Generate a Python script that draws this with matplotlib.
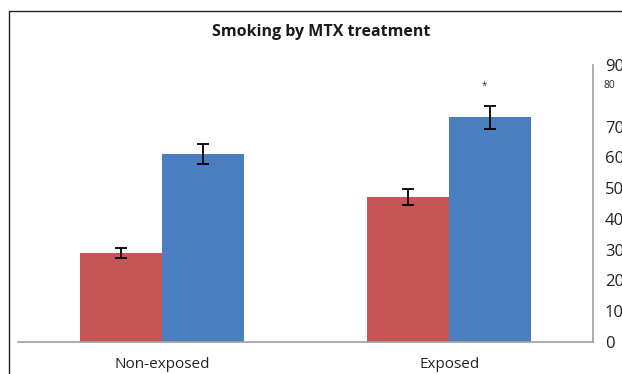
import matplotlib
matplotlib.use("Agg")
import matplotlib.pyplot as plt
from matplotlib.lines import Line2D
import numpy as np

plt.rcParams['font.family'] = ['Open Sans', 'DejaVu Sans']

categories = ["Non-exposed", "Exposed"]
no_mtx = [29, 47]
no_mtx_err = [1.6, 2.6]
mtx = [61, 73]
mtx_err = [3.2, 3.8]
y_ticks = [0, 10, 20, 30, 40, 50, 60, 70, 90]
title = "Smoking by MTX treatment"

W, H = 622, 374
fig = plt.figure(figsize=(W / 100, H / 100), dpi=100)
ax = fig.add_axes([18 / W, 1 - 342 / H, (593 - 18) / W, (342 - 65) / H])

x = np.arange(len(categories))
bw = 0.285
red = "#C65655"
blue = "#4A7EC0"
err_style = dict(ecolor="black", elinewidth=1.3, capsize=4, capthick=1.3)
ax.bar(x - bw / 2, no_mtx, bw, color=red, yerr=no_mtx_err, error_kw=err_style)
ax.bar(x + bw / 2, mtx, bw, color=blue, yerr=mtx_err, error_kw=err_style)

# significance marker over the exposed MTX bar
ax.text(x[1] + bw / 2 - 0.02, mtx[1] + mtx_err[1] + 6.5, "*", ha="center",
        va="center", fontsize=7, color="#333333")

ax.set_xlim(-0.5, 1.5)
ax.set_ylim(0, 90)
ax.set_xticks(x)
ax.set_xticklabels(categories, fontsize=11, color="#222222")
ax.tick_params(axis="x", length=0, pad=11)

ax.yaxis.tick_right()
ax.set_yticks(y_ticks)
ax.set_yticklabels([str(v) for v in y_ticks], fontsize=12, color="#222222")
ax.tick_params(axis="y", length=0, pad=8.5)
# the 80 label is set in a smaller size just below the 90 label
ax.text(1.0 + 11 / (593 - 18), 83.5, "80", transform=ax.get_yaxis_transform(),
        fontsize=7.5, ha="left", va="center", color="#222222")

for s in ["top", "left"]:
    ax.spines[s].set_visible(False)
for s in ["bottom", "right"]:
    ax.spines[s].set_color("#A0A0A0")
    ax.spines[s].set_linewidth(1.2)

fig.text(321 / W, 1 - 32 / H, title, ha="center", va="center",
         fontsize=11.5, fontweight="bold", color="#1A1A1A")

# chart-area border
fx = 8.5 / W
fy = 1 - 10.5 / H
fig.add_artist(Line2D([fx, fx, 1.0], [0.0, fy, fy], transform=fig.transFigure,
                      color="#222222", linewidth=1.0))

fig.savefig("out.png", dpi=100)
